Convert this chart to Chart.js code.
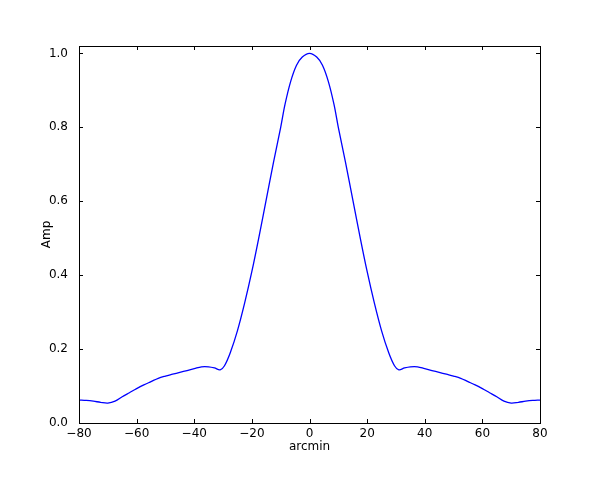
<!DOCTYPE html>
<html>
<head>
  <title>Amp vs arcmin</title>
  <script src="https://cdn.jsdelivr.net/npm/chart.js"></script>
  <style>
    body{
      margin: 0;
      background: #fff;
    }
    #wrap{
      width: 599px;
      height: 501px;
    }
  </style>
</head>
<body>
  <div id="wrap"><canvas id="chart" width="599" height="501"></canvas></div>

  <script>
    // beam profile
    var arcmin = [-80, -77.5, -75, -72.5, -70, -67.5, -65, -62.5, -60, -57.5, -55, -52.5, -50, -47.5, -45, -42.5, -40, -37.5, -35, -33, -31, -29.5, -27.5, -25, -22.5, -20, -17.5, -15, -12.5, -10, -8.5, -6.5, -4.5, -2.5, 0,
                  2.5, 4.5, 6.5, 8.5, 10, 12.5, 15, 17.5, 20, 22.5, 25, 27.5, 29.5, 31, 33, 35, 37.5, 40, 42.5, 45, 47.5, 50, 52.5, 55, 57.5, 60, 62.5, 65, 67.5, 70, 72.5, 75, 77.5, 80];
    var amp = [0.062, 0.061, 0.059, 0.056, 0.054, 0.059, 0.071, 0.082, 0.093, 0.103, 0.112, 0.121, 0.127, 0.132, 0.137, 0.142, 0.147, 0.152, 0.152, 0.149, 0.144, 0.155, 0.19, 0.25, 0.325, 0.41, 0.505, 0.605, 0.705, 0.80, 0.862, 0.925, 0.968, 0.99, 1.0,
               0.99, 0.968, 0.925, 0.862, 0.80, 0.705, 0.605, 0.505, 0.41, 0.325, 0.25, 0.19, 0.155, 0.144, 0.149, 0.152, 0.152, 0.147, 0.142, 0.137, 0.132, 0.127, 0.121, 0.112, 0.103, 0.093, 0.082, 0.071, 0.059, 0.054, 0.056, 0.059, 0.061, 0.062];

    var xTicks = [-80, -60, -40, -20, 0, 20, 40, 60, 80];
    var yTicks = [0.0, 0.2, 0.4, 0.6, 0.8, 1.0];

    var points = [];
    for (var i = 0; i < arcmin.length; i++) {
      points.push({x: arcmin[i], y: amp[i]});
    }

    // matplotlib style box with inward ticks on all four sides
    var frame = {
      id: "frame",
      afterDraw: function(chart) {
        var c = chart.ctx, a = chart.chartArea;
        var xs = chart.scales.x, ys = chart.scales.y;
        c.save();
        c.strokeStyle = "#000";
        c.lineWidth = 1;
        c.strokeRect(Math.round(a.left) + 0.5, Math.round(a.top) + 0.5,
                     Math.round(a.right - a.left), Math.round(a.bottom - a.top));
        c.beginPath();
        xTicks.forEach(function(v) {
          var px = Math.round(xs.getPixelForValue(v)) + 0.5;
          c.moveTo(px, a.bottom); c.lineTo(px, a.bottom - 4);
          c.moveTo(px, a.top); c.lineTo(px, a.top + 4);
        });
        yTicks.forEach(function(v) {
          var py = Math.round(ys.getPixelForValue(v)) + 0.5;
          c.moveTo(a.left, py); c.lineTo(a.left + 4, py);
          c.moveTo(a.right, py); c.lineTo(a.right - 4, py);
        });
        c.stroke();
        c.restore();
      }
    };

    var font = {family: "DejaVu Sans", size: 12};

    var ctx = document.getElementById("chart").getContext("2d");
    var chart = new Chart(ctx, {
      type: "line",
      data: {
        datasets: [{
          data: points,
          borderColor: "#0000ff",
          borderWidth: 1.3,
          pointRadius: 0,
          fill: false,
          tension: 0.35
        }]
      },
      options: {
        responsive: false,
        animation: false,
        layout: {padding: {top: 46, right: 59, left: 40, bottom: 47}},
        plugins: {legend: {display: false}, tooltip: {enabled: false}},
        scales: {
          x: {
            type: "linear",
            min: -80,
            max: 80,
            afterFit: function(s) { s.height = 31; },
            afterBuildTicks: function(s) { s.ticks = xTicks.map(function(v) { return {value: v}; }); },
            grid: {display: false},
            border: {display: false},
            ticks: {
              color: "#000",
              font: font,
              padding: -4,
              maxRotation: 0,
              callback: function(v) { return v < 0 ? "\u2212" + Math.abs(v) : String(v); }
            },
            title: {display: true, text: "arcmin", color: "#000", font: font, padding: 0}
          },
          y: {
            type: "linear",
            min: 0,
            max: 1.02,
            afterFit: function(s) { s.width = 39; },
            afterBuildTicks: function(s) { s.ticks = yTicks.map(function(v) { return {value: v}; }); },
            grid: {display: false},
            border: {display: false},
            ticks: {
              color: "#000",
              font: font,
              padding: 3,
              callback: function(v) { return v.toFixed(1); }
            },
            title: {display: true, text: "Amp", color: "#000", font: font, padding: 0}
          }
        }
      },
      plugins: [frame]
    });
  </script>
</body>
</html>
